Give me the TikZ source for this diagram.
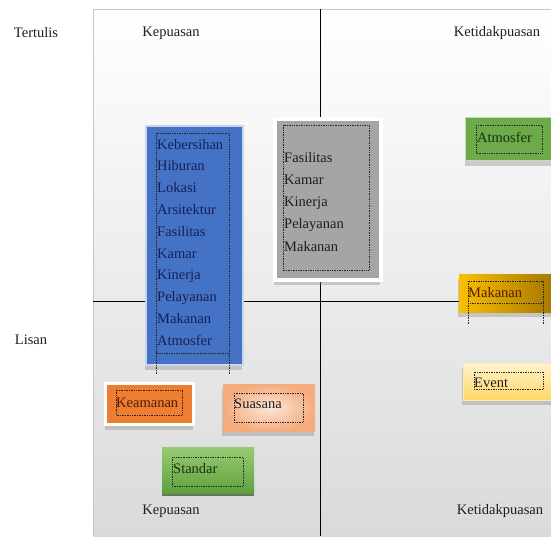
\documentclass[tikz,border=0pt]{standalone}
\usepackage{fontspec}
\setmainfont{Liberation Serif}
\usetikzlibrary{shadows}
\definecolor{latar}{RGB}{218,218,218}
\definecolor{biru}{RGB}{68,114,196}
\definecolor{abu}{RGB}{165,165,165}
\definecolor{hijau}{RGB}{108,170,74}
\definecolor{emasA}{RGB}{250,190,0}
\definecolor{emasB}{RGB}{160,115,0}
\definecolor{kuningA}{RGB}{255,244,205}
\definecolor{kuningB}{RGB}{255,214,100}
\definecolor{oranye}{RGB}{237,125,49}
\definecolor{persikA}{RGB}{252,232,220}
\definecolor{persikB}{RGB}{244,172,125}
\definecolor{standarA}{RGB}{150,204,115}
\definecolor{standarB}{RGB}{95,160,62}
\definecolor{navyTxt}{RGB}{22,32,88}
\definecolor{gelap}{RGB}{30,30,30}
\definecolor{coklat}{RGB}{85,25,5}
\definecolor{hijauTua}{RGB}{25,50,10}
\begin{document}
\begin{tikzpicture}[x=1pt, y=-1pt,
    lbl/.style={font=\fontsize{14.5}{17}\selectfont, inner sep=0pt, text=gelap},
    isi/.style={font=\fontsize{14.5}{17}\selectfont, inner sep=0pt, anchor=base west},
    kotak/.style={rectangle, inner sep=0pt, anchor=north west},
    bayang/.style={drop shadow={shadow xshift=-1pt, shadow yshift=-5pt, opacity=.35}},
    titik/.style={densely dotted, line width=0.7pt, black!85}]
  \useasboundingbox (0,0) rectangle (551,536);
  % latar dan sumbu
  \shade[top color=white, bottom color=latar] (93,9) rectangle (551,536);
  \draw[gray!45] (93,536) -- (93,9) -- (551,9);
  \draw[line width=1pt] (320,9) -- (320,536);
  \draw[line width=1pt] (93,301) -- (551,301);
  \node[lbl] (tertulis) at (36,33) {Tertulis};
  \node[lbl] (lisan) at (31,340) {Lisan};
  \node[lbl] (puasA) at (171,33) {Kepuasan};
  \node[lbl] (tdkA) at (497,33) {Ketidakpuasan};
  \node[lbl] (puasB) at (171,511) {Kepuasan};
  \node[lbl] (tdkB) at (500,511) {Ketidakpuasan};
  % kotak kuadran kiri atas
  \node[kotak, minimum width=97, minimum height=239, fill=biru, draw=white!70!biru, line width=1.5pt, bayang] (biru) at (145,125) {};
  \draw[titik] (156,133) rectangle (229,353) (156,353) -- (156,374) (229,353) -- (229,374);
  \foreach \w [count=\i from 0] in {Kebersihan,Hiburan,Lokasi,Arsitektur,Fasilitas,Kamar,Kinerja,Pelayanan,Makanan,Atmosfer}
    \node[isi, text=navyTxt] (b\i) at (157,{149+21.8*\i}) {\w};
  \node[kotak, minimum width=106, minimum height=161, fill=abu, draw=white, line width=4pt, bayang] (abu) at (273,117) {};
  \draw[titik] (283,125) rectangle (369,270);
  \foreach \w [count=\i from 0] in {Fasilitas,Kamar,Kinerja,Pelayanan,Makanan}
    \node[isi, text=gelap] (a\i) at (284,{162+22.3*\i}) {\w};
  % kotak kuadran kanan
  \node[kotak, minimum width=100, minimum height=43, fill=hijau, draw=white!60!hijau, line width=1pt, bayang] (atm) at (465,117) {};
  \draw[titik] (476,125) rectangle (542,153);
  \node[isi, text=hijauTua] (tAtm) at (477,142) {Atmosfer};
  \node[kotak, minimum width=100, minimum height=38, left color=emasA, right color=emasB, bayang] (mkn) at (459,274) {};
  \draw[titik] (468,281) rectangle (543,303) (468,303) -- (468,325) (543,303) -- (543,325);
  \node[isi, text=coklat] (tMkn) at (468,297) {Makanan};
  \node[kotak, minimum width=100, minimum height=37, top color=kuningA, bottom color=kuningB, draw=white!50!kuningB, bayang] (evt) at (463,363) {};
  \draw[titik] (474,372) rectangle (543,389);
  \node[isi, text=gelap] (tEvt) at (474,387) {Event};
  % kotak kuadran kiri bawah
  \node[kotak, minimum width=88, minimum height=41, fill=oranye, draw=white, line width=3pt, bayang] (aman) at (104,382) {};
  \draw[titik] (116,390) rectangle (182,415);
  \node[isi, text=coklat] (tAman) at (116,407) {Keamanan};
  \node[kotak, minimum width=92, minimum height=47, inner color=persikA, outer color=persikB, bayang] (suasana) at (223,384) {};
  \draw[titik] (234,393) rectangle (303,422);
  \node[isi, text=gelap] (tSuasana) at (234,408) {Suasana};
  \node[kotak, minimum width=92, minimum height=46, top color=standarA, bottom color=standarB,
        drop shadow={shadow xshift=0pt, shadow yshift=-3pt, fill=hijauTua, opacity=.6}] (standar) at (162,447) {};
  \draw[titik] (172,457) rectangle (243,486);
  \node[isi, text=hijauTua] (tStandar) at (173,473) {Standar};
\end{tikzpicture}
\end{document}
